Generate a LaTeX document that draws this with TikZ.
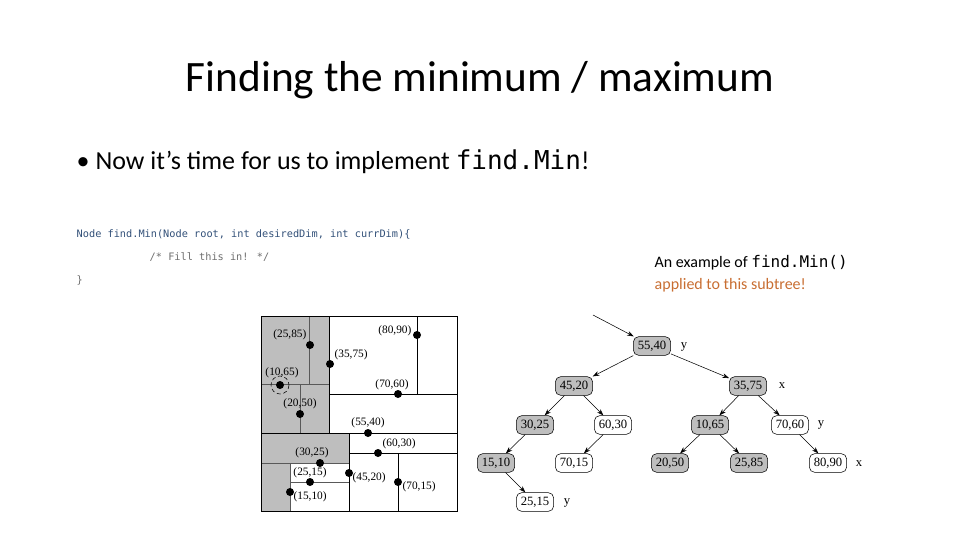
\documentclass[tikz,border=0pt]{standalone}
\usepackage{fontspec}
\setmainfont{Carlito}
\newfontfamily\mono{DejaVu Sans Mono}
\newfontfamily\serifx{Liberation Serif}
\usetikzlibrary{arrows.meta}
\definecolor{codeblue}{RGB}{50,80,120}
\definecolor{codegray}{RGB}{110,110,110}
\definecolor{orng}{RGB}{200,110,50}
\definecolor{gfill}{RGB}{190,190,190}
\tikzset{
 pt/.style={circle,fill=black,inner sep=0pt,minimum size=6pt},
 plab/.style={font=\serifx\fontsize{8.5}{9}\selectfont,inner sep=1pt},
 tn/.style={draw,rounded corners=4pt,minimum width=28pt,minimum height=14pt,inner sep=1pt,font=\serifx\fontsize{9.5}{10}\selectfont},
 tg/.style={tn,fill=gfill},
 tw/.style={tn,fill=white},
 dlab/.style={font=\serifx\fontsize{9.5}{10}\selectfont},
 arr/.style={-{Stealth[length=5pt,width=3.5pt]},thin}
}
\begin{document}
\begin{tikzpicture}[x=0.75pt,y=-0.75pt]
\useasboundingbox (0,0) rectangle (960,540);
\node (title) at (480,80) {\fontsize{32.5}{36}\selectfont Finding the minimum / maximum};
\node[anchor=west] (bul) at (72,162) {\fontsize{19.5}{22}\selectfont •\ Now it’s time for us to implement {\mono find.Min}!};
\node[anchor=west,text=codeblue] (c1) at (72,234) {\mono\fontsize{7.7}{9}\selectfont Node find.Min(Node root, int desiredDim, int currDim)\{};
\node[anchor=west,text=codegray] (c2) at (145,257) {\mono\fontsize{7.7}{9}\selectfont /* Fill this in! */};
\node[anchor=west,text=codegray] (c3) at (72,280) {\mono\fontsize{7.7}{9}\selectfont \}};
\node[anchor=west] (r1) at (650,263) {\fontsize{12}{14}\selectfont An example of {\mono find.Min()}};
\node[anchor=west,text=orng] (r2) at (650,285) {\fontsize{12}{14}\selectfont applied to this subtree!};
% plane
\fill[gfill] (261,316) rectangle (329,433);
\fill[gfill] (261,433) rectangle (349,463);
\fill[gfill] (261,463) rectangle (290,511);
\draw[gray!70!black,thin] (309,316)--(309,384) (261,384)--(329,384) (300,384)--(300,433);
\draw[gray!70!black,thin] (261,463)--(349,463) (290,463)--(290,511) (290,482)--(349,482);
\draw[thin] (329,316)--(329,433) (261,433)--(457,433) (329,394)--(457,394) (417,316)--(417,394);
\draw[thin] (349,433)--(349,511) (349,453)--(457,453) (398,453)--(398,511);
\draw[semithick] (261,316) rectangle (457,511);
\node[pt] (p2585) at (310,345) {}; \node[plab,anchor=south east] at (308,342) {(25,85)};
\node[pt] (p3575) at (330,364) {}; \node[plab,anchor=south west] at (333,362) {(35,75)};
\node[pt] (p8090) at (417,335) {}; \node[plab,anchor=east] at (413,331) {(80,90)};
\node[pt] (p1065) at (280,385) {}; \draw[thin,densely dashed] (p1065) circle (9);
\node[plab,anchor=south] at (282,380) {(10,65)};
\node[pt] (p7060) at (398,394) {}; \node[plab,anchor=south] at (392,392) {(70,60)};
\node[pt] (p2050) at (300,414) {}; \node[plab,anchor=south] at (300,411) {(20,50)};
\node[pt] (p5540) at (368,433) {}; \node[plab,anchor=south] at (368,430) {(55,40)};
\node[pt] (p6030) at (378,453) {}; \node[plab,anchor=south west] at (381,451) {(60,30)};
\node[pt] (p3025) at (320,463) {}; \node[plab,anchor=south] at (312,460) {(30,25)};
\node[pt] (p4520) at (349,473) {}; \node[plab,anchor=north west] at (351,471) {(45,20)};
\node[pt] (p2515) at (310,482) {}; \node[plab,anchor=south] at (310,480) {(25,15)};
\node[pt] (p1510) at (290,492) {}; \node[plab,anchor=north west] at (292,490) {(15,10)};
\node[pt] (p7015) at (398,482) {}; \node[plab,anchor=west] at (401,487) {(70,15)};
% tree
\node[tg] (a) at (652,346) {55,40};
\node[tg] (b) at (574,386) {45,20};
\node[tg] (c) at (748,386) {35,75};
\node[tg] (d) at (535,425) {30,25};
\node[tw] (e) at (613,425) {60,30};
\node[tg] (f) at (710,425) {10,65};
\node[tw] (g) at (790,425) {70,60};
\node[tg] (h) at (496,463) {15,10};
\node[tw] (i) at (574,463) {70,15};
\node[tg] (j) at (670,463) {20,50};
\node[tg] (k) at (749,463) {25,85};
\node[tw] (l) at (828,463) {80,90};
\node[tw] (m) at (535,502) {25,15};
\node[dlab] at (684,347) {y};
\node[dlab] at (782,386) {x};
\node[dlab] at (821,425) {y};
\node[dlab] at (859,464) {x};
\node[dlab] at (567,503) {y};
\coordinate (in) at (593,315);
\draw[arr] (in) -- (a);
\draw[arr] (a) -- (b); \draw[arr] (a) -- (c);
\draw[arr] (b) -- (d); \draw[arr] (b) -- (e);
\draw[arr] (c) -- (f); \draw[arr] (c) -- (g);
\draw[arr] (d) -- (h); \draw[arr] (e) -- (i);
\draw[arr] (f) -- (j); \draw[arr] (f) -- (k);
\draw[arr] (g) -- (l); \draw[arr] (h) -- (m);
\end{tikzpicture}
\end{document}
